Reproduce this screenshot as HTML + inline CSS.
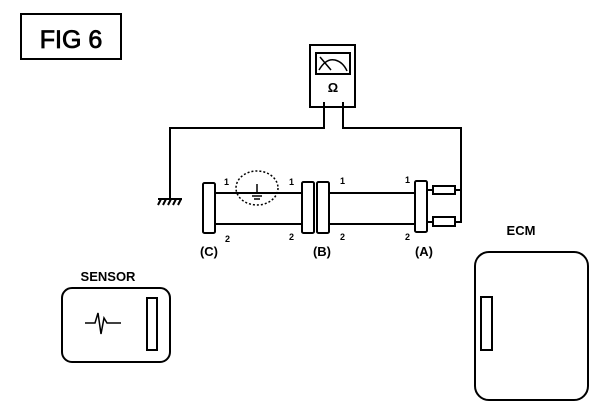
<!DOCTYPE html>
<html><head><style>
html,body{margin:0;padding:0;background:#fff;}
svg{display:block;}
text{font-family:"Liberation Sans",sans-serif;fill:#000;}
</style></head><body>
<svg width="608" height="420" viewBox="0 0 608 420" xmlns="http://www.w3.org/2000/svg">
<g fill="none" stroke="#000" stroke-width="2">
<rect x="21" y="14" width="100" height="45"/>
<!-- meter -->
<rect x="310" y="45" width="45" height="62"/>
<rect x="316" y="53" width="34" height="21"/>
<path d="M320 57 L331 70 M319 70 Q326 58 335 60 Q343 62 347 71" stroke-width="1.5"/>
<!-- wires -->
<path d="M324 102 V128 H170 V198"/>
<path d="M343 102 V128 H461 V222 H455"/>
<path d="M455 190 H461"/>
<!-- ground -->
<path d="M158 199 H182 M161 199 l-3 6 M166 199 l-3 6 M171 199 l-3 6 M176 199 l-3 6 M181 199 l-3 6" stroke-width="2"/>
<!-- connectors -->
<rect x="203" y="183" width="12" height="50" rx="1.5"/>
<rect x="302" y="182" width="12" height="51" rx="1.5"/>
<rect x="317" y="182" width="12" height="51" rx="1.5"/>
<rect x="415" y="181" width="12" height="51" rx="1.5"/>
<path d="M215 193 H302 M215 224 H302 M329 193 H415 M329 224 H415"/>
<rect x="433" y="186" width="22" height="8"/>
<rect x="433" y="217" width="22" height="9"/>
<path d="M427 190 H433 M427 222 H433"/>
<ellipse cx="257" cy="188" rx="21" ry="17" stroke-dasharray="2 2" stroke-width="1.5"/>
<path d="M257 184 V193 M250 193 H264 M252 196 H262 M254 199 H260" stroke-width="1.5"/>
<!-- sensor -->
<rect x="62" y="288" width="108" height="74" rx="10"/>
<rect x="147" y="298" width="10" height="52"/>
<path d="M85 323 H95 L98 313 L101 334 L104 318 L107 323 H121" stroke-width="1.5"/>
<!-- ecm -->
<rect x="475" y="252" width="113" height="148" rx="14"/>
<rect x="481" y="297" width="11" height="53"/>
</g>
<text x="71" y="48" font-size="25" text-anchor="middle" stroke="#000" stroke-width="0.8">FIG  6</text>
<text x="333" y="92" font-size="13" font-weight="bold" text-anchor="middle">Ω</text>
<g font-size="9" font-weight="bold">
<text x="224" y="185">1</text><text x="289" y="185">1</text><text x="340" y="184">1</text><text x="405" y="183">1</text>
<text x="225" y="242">2</text><text x="289" y="240">2</text><text x="340" y="240">2</text><text x="405" y="240">2</text>
</g>
<g font-size="13" font-weight="bold">
<text x="209" y="256" text-anchor="middle">(C)</text>
<text x="322" y="256" text-anchor="middle">(B)</text>
<text x="424" y="256" text-anchor="middle">(A)</text>
<text x="108" y="281" text-anchor="middle">SENSOR</text>
<text x="521" y="235" text-anchor="middle">ECM</text>
</g>
</svg>
</body></html>
